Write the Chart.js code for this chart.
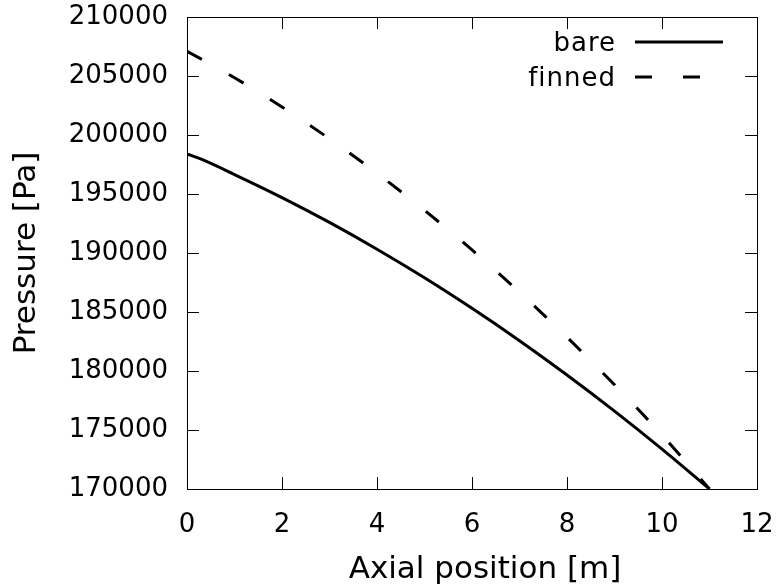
<!DOCTYPE html>
<html lang="en">
<head>
    <meta charset="UTF-8">
    <title>Pressure vs Axial position</title>
    <script src="https://cdn.jsdelivr.net/npm/chart.js"></script>
    <style>
        html, body { margin: 0; padding: 0; background: #fff; }
        #wrap { width: 777px; height: 587px; }
    </style>
</head>
<body>
    <div id="wrap"><canvas id="pressureChart" width="777" height="587"></canvas></div>

    <script>
        // Values (axial position in m, pressure in Pa)
        const bareX = [0, 0.3, 1, 2, 3, 4, 5, 6, 7, 8, 9, 10, 11];
        const bareY = [198400, 197950, 196650, 194700, 192590, 190320, 187900, 185310, 182570, 179660, 176600, 173380, 170000];

        const finnedX = [0, 1, 2, 3, 4, 5, 6, 7, 8, 9, 10, 11];
        const finnedY = [207100, 204850, 202380, 199680, 196760, 193620, 190260, 186670, 182860, 178830, 174580, 170000];

        const xTicks = [0, 2, 4, 6, 8, 10, 12];
        const yTicks = [170000, 175000, 180000, 185000, 190000, 195000, 200000, 205000, 210000];
        const xTitle = 'Axial position [m]';

        const toPoints = (xs, ys) => xs.map((x, i) => ({ x: x, y: ys[i] }));
        const FONT = "'DejaVu Sans', sans-serif";

        // gnuplot-like frame, inward ticks on all four sides, x label and the legend
        const framePlugin = {
            id: 'frame',
            afterDraw(chart) {
                const { ctx, chartArea: a, scales } = chart;
                ctx.save();
                ctx.strokeStyle = '#000';
                ctx.lineWidth = 1;
                ctx.strokeRect(a.left + 0.5, a.top + 0.5, a.right - a.left, a.bottom - a.top);

                const tl = 12;
                ctx.beginPath();
                xTicks.slice(1, -1).forEach(v => {
                    const px = Math.round(scales.x.getPixelForValue(v)) + 0.5;
                    ctx.moveTo(px, a.bottom); ctx.lineTo(px, a.bottom - tl);
                    ctx.moveTo(px, a.top); ctx.lineTo(px, a.top + tl);
                });
                yTicks.slice(1, -1).forEach(v => {
                    const py = Math.round(scales.y.getPixelForValue(v)) + 0.5;
                    ctx.moveTo(a.left, py); ctx.lineTo(a.left + tl, py);
                    ctx.moveTo(a.right, py); ctx.lineTo(a.right - tl, py);
                });
                ctx.stroke();

                // x axis label (gnuplot puts it a bit right of the plot centre)
                ctx.fillStyle = '#000';
                ctx.font = '31px ' + FONT;
                ctx.textAlign = 'center';
                ctx.textBaseline = 'alphabetic';
                ctx.fillText(xTitle, (a.left + a.right) / 2 + 13, a.bottom + 89);

                // legend: label right-aligned, sample line to the right
                ctx.font = '26px ' + FONT;
                ctx.letterSpacing = '1px';
                ctx.textAlign = 'right';
                ctx.textBaseline = 'middle';
                chart.data.datasets.forEach((ds, i) => {
                    const y = a.top + 25 + i * 35;
                    ctx.fillText(ds.label, a.left + 429, y + 2);
                    ctx.beginPath();
                    ctx.lineWidth = ds.borderWidth;
                    ctx.setLineDash(ds.borderDash || []);
                    ctx.moveTo(a.left + 448, y);
                    ctx.lineTo(a.left + 536, y);
                    ctx.stroke();
                });
                ctx.restore();
            }
        };

        const ctx = document.getElementById('pressureChart').getContext('2d');
        const pressureChart = new Chart(ctx, {
            type: 'line',
            data: {
                datasets: [{
                    label: 'bare',
                    data: toPoints(bareX, bareY),
                    borderColor: '#000',
                    borderWidth: 3,
                    pointRadius: 0,
                    cubicInterpolationMode: 'monotone',
                    fill: false
                }, {
                    label: 'finned',
                    data: toPoints(finnedX, finnedY),
                    borderColor: '#000',
                    borderWidth: 3,
                    borderDash: [17, 31],
                    pointRadius: 0,
                    cubicInterpolationMode: 'monotone',
                    fill: false
                }]
            },
            options: {
                responsive: false,
                animation: false,
                layout: { padding: { top: 17, right: 20, left: 0, bottom: 0 } },
                plugins: {
                    legend: { display: false },
                    tooltip: { enabled: false }
                },
                scales: {
                    x: {
                        type: 'linear',
                        position: 'bottom',
                        min: 0,
                        max: 12,
                        afterBuildTicks: s => { s.ticks = xTicks.map(v => ({ value: v })); },
                        afterFit: s => {
                            s.height = 98;
                            s.paddingLeft = 0;
                            s.paddingRight = 0;
                        },
                        grid: { display: false, drawTicks: false },
                        border: { display: false },
                        ticks: {
                            padding: 21,
                            color: '#000',
                            font: { family: FONT, size: 26 },
                            maxRotation: 0
                        }
                    },
                    y: {
                        min: 170000,
                        max: 210000,
                        afterBuildTicks: s => { s.ticks = yTicks.map(v => ({ value: v })); },
                        afterFit: s => {
                            s.width = 187;
                            s.paddingTop = 0;
                            s.paddingBottom = 0;
                        },
                        grid: { display: false, drawTicks: false },
                        border: { display: false },
                        ticks: {
                            padding: 19,
                            color: '#000',
                            font: { family: FONT, size: 26 },
                            callback: v => String(v)
                        },
                        title: {
                            display: true,
                            text: 'Pressure [Pa]',
                            color: '#000',
                            font: { family: FONT, size: 31 },
                            padding: { top: 8, bottom: 0 }
                        }
                    }
                }
            },
            plugins: [framePlugin]
        });
    </script>
</body>
</html>
